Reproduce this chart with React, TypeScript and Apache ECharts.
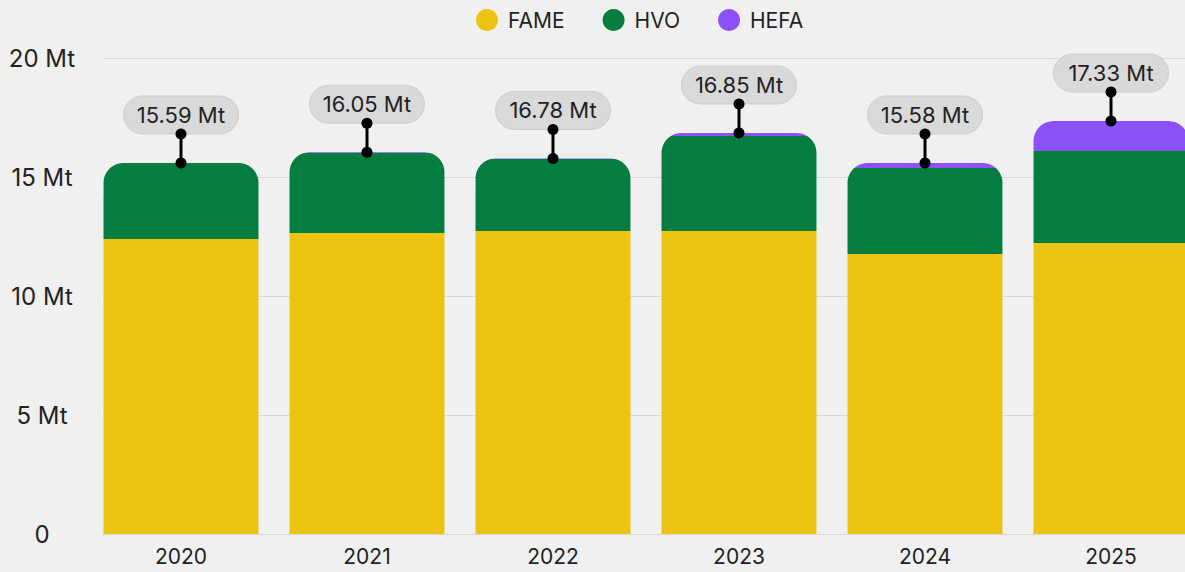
import React, { useEffect, useRef } from "react";
import * as echarts from "echarts";

const years = ["2020", "2021", "2022", "2023", "2024", "2025"];
const fame = [12.39, 12.65, 12.73, 12.73, 11.76, 12.23];
const hvo = [3.2, 3.36, 3.03, 3.99, 3.62, 3.86];
const hefa = [0, 0.03, 0.02, 0.13, 0.21, 1.26];
const totalLabels = [15.59, 16.05, 16.78, 16.85, 15.58, 17.33];
const yTicks = [0, 5, 10, 15, 20];

const seriesNames = ["FAME", "HVO", "HEFA"];
const seriesColors = ["#ebc412", "#067d40", "#8b52fb"];
const FONT = "Inter, 'Noto Sans', sans-serif";

export default function App() {
  const ref = useRef<HTMLDivElement>(null);
  useEffect(() => {
    if (!ref.current) return;
    const chart = echarts.init(ref.current, null, { renderer: "svg" });
    const stacks = [fame, hvo, hefa];
    const totals = years.map((_, i) => fame[i] + hvo[i] + hefa[i]);

    const segData = (k: number) =>
      years.map((_, i) => {
        let base = 0;
        for (let j = 0; j < k; j++) base += stacks[j][i];
        return [i, base, base + stacks[k][i], totals[i]];
      });

    const renderSeg = (params: any, api: any) => {
      const idx = api.value(0);
      const base = api.value(1);
      const top = api.value(2);
      const total = api.value(3);
      if (top - base <= 0) return null;
      const cx = api.coord([idx, 0])[0];
      const yZero = api.coord([idx, 0])[1];
      const band = api.size([1, 0])[0];
      const w = band * 0.833;
      const yTotal = api.coord([idx, total])[1];
      const yTop = api.coord([idx, top])[1];
      const yBase = api.coord([idx, base])[1];
      const r = Math.min(20, w / 2, yZero - yTotal);
      const hw = (y: number) => {
        if (y >= yTotal + r) return w / 2;
        const dy = yTotal + r - y;
        return w / 2 - r + Math.sqrt(Math.max(0, r * r - dy * dy));
      };
      const ys: number[] = [yTop];
      for (let y = Math.ceil(yTop); y < Math.min(yBase, yTotal + r); y += 0.5) ys.push(y);
      ys.push(yBase);
      const pts: number[][] = [];
      ys.forEach((y) => pts.push([cx + hw(y), y]));
      for (let i = ys.length - 1; i >= 0; i--) pts.push([cx - hw(ys[i]), ys[i]]);
      return {
        type: "polygon",
        shape: { points: pts },
        style: { fill: api.visual("color") },
      };
    };

    const renderPin = (params: any, api: any) => {
      const idx = api.value(0);
      const total = api.value(1);
      const label = api.value(2);
      const p = api.coord([idx, total]);
      const cx = p[0];
      const y0 = p[1];
      const y1 = y0 - 29;
      const pw = 115;
      const ph = 38;
      return {
        type: "group",
        children: [
          {
            type: "rect",
            shape: { x: cx - pw / 2, y: y1 - ph, width: pw, height: ph, r: 19 },
            style: { fill: "#d9d9d9", stroke: "#cdcdcd", lineWidth: 1 },
          },
          {
            type: "text",
            x: cx,
            y: y1 - ph / 2,
            style: {
              text: label.toFixed(2) + " Mt",
              fill: "#222",
              font: "22px " + FONT,
              align: "center",
              verticalAlign: "middle",
            },
          },
          {
            type: "line",
            shape: { x1: cx, y1: y0, x2: cx, y2: y1 },
            style: { stroke: "#000", lineWidth: 3 },
          },
          { type: "circle", shape: { cx, cy: y0, r: 5.5 }, style: { fill: "#000" } },
          { type: "circle", shape: { cx, cy: y1, r: 5.5 }, style: { fill: "#000" } },
        ],
      };
    };

    const option: any = {
      animation: false,
      backgroundColor: "#f0f0f0",
      textStyle: { fontFamily: FONT },
      legend: {
        data: seriesNames,
        top: 4,
        left: 471,
        icon: "circle",
        itemWidth: 32,
        itemHeight: 22,
        itemGap: 38,
        textStyle: { fontSize: 21, color: "#222", fontFamily: FONT },
      },
      grid: [
        { left: 103, right: 6, top: 58, bottom: 38 },
        { left: 88, right: 6, top: 58, bottom: 38 },
      ],
      xAxis: [
        { type: "value", gridIndex: 0, show: false, min: 0, max: 1 },
        {
          type: "category",
          gridIndex: 1,
          data: years,
          axisLine: { show: false },
          axisTick: { show: false },
          axisLabel: { fontSize: 21, color: "#222", margin: 12, fontFamily: FONT },
        },
      ],
      yAxis: [
        {
          type: "value",
          gridIndex: 0,
          min: 0,
          max: 20,
          interval: 5,
          axisLabel: { show: false },
          axisLine: { show: false },
          axisTick: { show: false },
          splitLine: { show: true, lineStyle: { color: "#d9d9d9", width: 1 } },
        },
        {
          type: "value",
          gridIndex: 1,
          min: yTicks[0],
          max: yTicks[yTicks.length - 1],
          interval: 5,
          axisLine: { show: false },
          axisTick: { show: false },
          splitLine: { show: false },
          axisLabel: {
            fontSize: 24,
            color: "#222",
            align: "center",
            margin: 46,
            fontFamily: FONT,
            formatter: (v: number) => (v === 0 ? "0" : v + " Mt"),
          },
        },
      ],
      series: [
        ...seriesNames.map((name, k) => ({
          name,
          type: "custom",
          xAxisIndex: 1,
          yAxisIndex: 1,
          itemStyle: { color: seriesColors[k] },
          renderItem: renderSeg,
          encode: { x: 0, y: [1, 2, 3] },
          data: segData(k),
          z: 2,
        })),
        {
          name: "labels",
          type: "custom",
          xAxisIndex: 1,
          yAxisIndex: 1,
          renderItem: renderPin,
          encode: { x: 0, y: 1 },
          data: years.map((_, i) => [i, totals[i], totalLabels[i]]),
          z: 5,
          silent: true,
        },
      ],
    };
    chart.setOption(option);
    return () => chart.dispose();
  }, []);
  return (
    <div style={{ position: "fixed", left: 0, top: 0, width: 1185, height: 572, overflow: "hidden" }}>
      <div ref={ref} style={{ position: "absolute", left: 0, top: 0, width: 1210, height: 572 }} />
    </div>
  );
}
